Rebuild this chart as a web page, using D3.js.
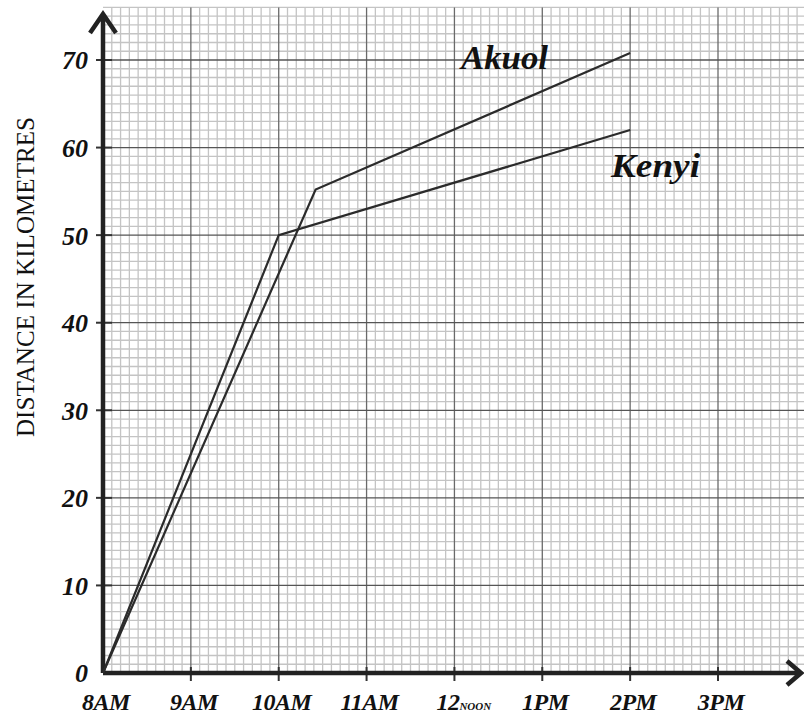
<!DOCTYPE html>
<html>
<head>
<meta charset="utf-8">
<script src="https://cdn.jsdelivr.net/npm/d3@7"></script>
<style>
body { margin: 0; background: #fff; }
.tickLabel { font-family: "Liberation Serif", serif; font-style: italic; font-weight: bold; fill: #111; }
</style>
</head>
<body>
<script>
//distance-time graph for Akuol and Kenyi on graph paper

//hours on the x axis (24h clock) and their labels
var hourTicks = [8, 9, 10, 11, 12, 13, 14, 15];
var hourLabels = ["8AM", "9AM", "10AM", "11AM", "12", "1PM", "2PM", "3PM"];

//distance ticks on the y axis
var kmTicks = [0, 10, 20, 30, 40, 50, 60, 70];

//Akuol's journey: time (hours) and distance (km)
var akuolTimes = [8, 10.42, 14];
var akuolKm = [0, 55.2, 70.8];

//Kenyi's journey
var kenyiTimes = [8, 10, 14];
var kenyiKm = [0, 50, 62];

(function(){

window.onload = setChart();

function setChart(){
    var width = 804,
        height = 716;

    var svg = d3.select("body")
        .append("svg")
        .attr("width", width)
        .attr("height", height);

    svg.append("rect")
        .attr("width", width)
        .attr("height", height)
        .attr("fill", "#fff");

    //scales: 8AM sits on the y axis, 0 km sits on the x axis
    var x = d3.scaleLinear().domain([8, 15]).range([103, 718]);
    var y = d3.scaleLinear().domain([0, 70]).range([673, 60]);

    setGrid(svg, x, y, width);
    setAxes(svg, x, y);
    setLines(svg, x, y);
    setLabels(svg);
};

function setGrid(svg, x, y, width){
    var top = y(76);

    //minor lines, every 6 minutes and every km
    var minorX = d3.range(80, 161).map(function(d){ return d / 10; });
    var minorY = d3.range(0, 77);

    svg.selectAll(".minorV")
        .data(minorX.filter(function(d){ return d % 1 !== 0; }))
        .enter()
        .append("line")
        .attr("class", "minorV")
        .attr("x1", function(d){ return x(d); })
        .attr("x2", function(d){ return x(d); })
        .attr("y1", top)
        .attr("y2", y(0))
        .attr("stroke", "#c4c4c4")
        .attr("stroke-width", 1.3);

    svg.selectAll(".minorH")
        .data(minorY.filter(function(d){ return d % 10 !== 0; }))
        .enter()
        .append("line")
        .attr("class", "minorH")
        .attr("x1", x(8))
        .attr("x2", width)
        .attr("y1", function(d){ return y(d); })
        .attr("y2", function(d){ return y(d); })
        .attr("stroke", "#c4c4c4")
        .attr("stroke-width", 1.3);

    //major lines on the hours and every 10 km
    svg.selectAll(".majorV")
        .data(d3.range(9, 16))
        .enter()
        .append("line")
        .attr("class", "majorV")
        .attr("x1", function(d){ return x(d); })
        .attr("x2", function(d){ return x(d); })
        .attr("y1", top)
        .attr("y2", y(0))
        .attr("stroke", "#6a6a6a")
        .attr("stroke-width", 1.3);

    svg.selectAll(".majorH")
        .data(kmTicks.slice(1))
        .enter()
        .append("line")
        .attr("class", "majorH")
        .attr("x1", x(8))
        .attr("x2", width)
        .attr("y1", function(d){ return y(d); })
        .attr("y2", function(d){ return y(d); })
        .attr("stroke", "#555")
        .attr("stroke-width", 1.3);
};

function setAxes(svg, x, y){
    var x0 = x(8), y0 = y(0);

    //tick marks
    svg.selectAll(".xTick")
        .data(hourTicks.slice(1))
        .enter()
        .append("line")
        .attr("x1", function(d){ return x(d); })
        .attr("x2", function(d){ return x(d); })
        .attr("y1", y0 - 6)
        .attr("y2", y0 + 8)
        .attr("stroke", "#333")
        .attr("stroke-width", 2);

    svg.selectAll(".yTick")
        .data(kmTicks.slice(1))
        .enter()
        .append("line")
        .attr("x1", x0 - 7)
        .attr("x2", x0 + 9)
        .attr("y1", function(d){ return y(d); })
        .attr("y2", function(d){ return y(d); })
        .attr("stroke", "#333")
        .attr("stroke-width", 2);

    //thick axes with arrow heads
    var axisPath = "M" + x0 + "," + y0 + "L" + x0 + ",14" +
        "M" + (x0 - 13) + ",33L" + x0 + ",14L" + (x0 + 13) + ",33" +
        "M" + x0 + "," + y0 + "L801," + y0 +
        "M787," + (y0 - 12) + "L801," + y0 + "L787," + (y0 + 12);

    svg.append("path")
        .attr("d", axisPath)
        .attr("fill", "none")
        .attr("stroke", "#222")
        .attr("stroke-width", 4.5)
        .attr("stroke-linejoin", "miter");

    //tick labels
    svg.selectAll(".yLabel")
        .data(kmTicks)
        .enter()
        .append("text")
        .attr("class", "tickLabel")
        .attr("x", 88)
        .attr("y", function(d){ return y(d); })
        .attr("dy", "0.36em")
        .attr("text-anchor", "end")
        .style("font-size", "26px")
        .text(function(d){ return d; });

    var xLabels = svg.selectAll(".xLabel")
        .data(hourTicks)
        .enter()
        .append("text")
        .attr("class", "tickLabel")
        .attr("y", 710)
        .style("font-size", "24px")
        .style("letter-spacing", "-0.5px");

    xLabels.filter(function(d, i){ return hourLabels[i] !== "12"; })
        .attr("x", function(d){ return x(d) + 3; })
        .attr("text-anchor", "middle")
        .text(function(d, i){ return hourLabels[hourTicks.indexOf(d)]; });

    //12 noon gets the small word after the number
    var noon = xLabels.filter(function(d, i){ return hourLabels[i] === "12"; })
        .attr("x", function(d){ return x(d) - 18; })
        .attr("text-anchor", "start");
    noon.append("tspan").text("12");
    noon.append("tspan")
        .style("font-size", "11px")
        .style("letter-spacing", "0px")
        .text("NOON");

    //y axis title
    svg.append("text")
        .attr("transform", "translate(34,277) rotate(-90)")
        .attr("text-anchor", "middle")
        .attr("textLength", 320)
        .attr("lengthAdjust", "spacingAndGlyphs")
        .style("font-family", "'Liberation Serif', serif")
        .style("font-size", "26px")
        .style("fill", "#111")
        .text("DISTANCE IN KILOMETRES");
};

function setLines(svg, x, y){
    var line = d3.line()
        .x(function(d){ return x(d[0]); })
        .y(function(d){ return y(d[1]); });

    var series = [
        d3.zip(akuolTimes, akuolKm),
        d3.zip(kenyiTimes, kenyiKm)
    ];

    svg.selectAll(".journey")
        .data(series)
        .enter()
        .append("path")
        .attr("class", "journey")
        .attr("d", line)
        .attr("fill", "none")
        .attr("stroke", "#2b2b2b")
        .attr("stroke-width", 2.2);
};

function setLabels(svg){
    svg.append("text")
        .attr("class", "tickLabel")
        .attr("x", 461)
        .attr("y", 69)
        .attr("textLength", 87)
        .attr("lengthAdjust", "spacingAndGlyphs")
        .style("font-size", "34px")
        .text("Akuol");

    svg.append("text")
        .attr("class", "tickLabel")
        .attr("x", 611)
        .attr("y", 177)
        .attr("textLength", 89)
        .attr("lengthAdjust", "spacingAndGlyphs")
        .style("font-size", "34px")
        .text("Kenyi");
};

})();
</script>
</body>
</html>
